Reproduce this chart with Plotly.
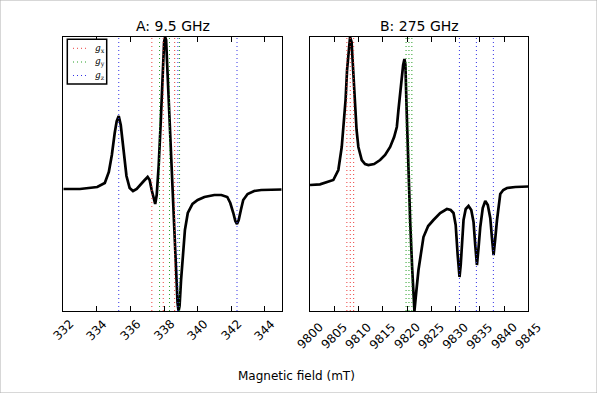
import plotly.graph_objects as go

# ---------------- data ----------------
fieldA = [332.00, 332.99, 334.02, 334.47, 334.71, 334.89, 335.06, 335.18, 335.30, 335.42,
          335.56, 335.76, 335.95, 336.15, 336.37, 336.55, 336.79, 337.02, 337.14, 337.26,
          337.38, 337.47, 337.56, 337.68, 337.80, 337.91, 338.00, 338.06, 338.12, 338.21,
          338.33, 338.44, 338.56, 338.68, 338.80, 338.86, 338.92, 339.01, 339.11, 339.24,
          339.41, 339.69, 340.00, 340.40, 340.99, 341.41, 341.76, 341.94, 342.12, 342.24,
          342.34, 342.44, 342.57, 342.71, 342.97, 343.36, 343.78, 344.37, 345.00]
signalA = [0, 0, 2, 6, 17, 34, 56, 68, 73, 64,
           43, 13, 1, -2, 0, 3, 8, 12, 9, -1,
           -11, -15, -6, 24, 67, 119, 147, 152, 149, 114,
           69, 24, -26, -73, -114, -122, -117, -91, -64, -41,
           -24, -15, -11, -8, -6, -6, -8, -14, -24, -32,
           -35, -31, -21, -11, -5, -2, -1, -0.5, -0.5]

fieldB = [9800.00, 9802.06, 9804.81, 9805.84, 9806.54, 9807.08, 9807.33, 9807.64, 9808.05, 9808.26,
          9808.57, 9808.88, 9809.29, 9809.60, 9809.97, 9810.67, 9811.35, 9812.04, 9813.21, 9814.45,
          9815.48, 9816.52, 9817.34, 9817.90, 9818.23, 9818.58, 9818.93, 9819.20, 9819.47, 9819.67,
          9819.92, 9820.23, 9820.64, 9821.06, 9821.37, 9821.53, 9821.78, 9822.36, 9823.39, 9824.36,
          9825.45, 9826.84, 9828.22, 9829.00, 9829.58, 9830.03, 9830.44, 9830.82, 9831.07, 9831.32,
          9831.65, 9832.10, 9832.68, 9833.24, 9833.71, 9834.06, 9834.41, 9834.74, 9835.10, 9835.61,
          9836.13, 9836.65, 9837.16, 9837.51, 9837.84, 9838.20, 9838.55, 9839.22, 9839.84, 9840.61,
          9842.32, 9845.00]
signalB = [1, 1.7, 6, 16, 39, 66, 86, 116, 144, 149,
           144, 116, 76, 56, 39, 26, 22, 21, 22, 26,
           31, 39, 49, 59, 76, 94, 109, 121, 127, 121,
           76, 26, -34, -82, -114, -125, -112, -84, -51, -40,
           -34, -27, -23, -24, -27, -39, -69, -91, -79, -61,
           -34, -23, -20, -24, -36, -59, -79, -62, -41, -22,
           -15, -19, -32, -52, -69, -52, -34, -8, -4, -2,
           -1, -0.5]

gx_A = [337.27, 337.95, 338.63]
gy_A = [337.73, 338.32, 338.92]
gz_A = [335.30, 338.82, 342.34]
gx_B = [9807.6, 9808.3, 9809.0]
gy_B = [9819.8, 9820.4, 9821.0]
gz_B = [9830.8, 9834.3, 9837.8]

ticksA = [332, 334, 336, 338, 340, 342, 344]
ticksB = [9800, 9805, 9810, 9815, 9820, 9825, 9830, 9835, 9840, 9845]

titles = ["A: 9.5 GHz", "B: 275 GHz"]
xlabel = "Magnetic field (mT)"
legend_labels = ["<i>g</i><sub>x</sub>", "<i>g</i><sub>y</sub>", "<i>g</i><sub>z</sub>"]
g_colors = ["rgb(235,60,60)", "rgb(40,160,40)", "rgb(50,50,230)"]

FONT = "DejaVu Sans"
W, H = 597, 393
DOT = "1px,3px"

fig = go.Figure()

def add_panel(field, signal, groups, xa, ya):
    ymin, ymax = min(signal), max(signal)
    fig.add_trace(go.Scatter(x=field, y=signal, mode="lines",
                             line=dict(color="black", width=2.7),
                             xaxis=xa, yaxis=ya, showlegend=False, hoverinfo="skip"))
    for gvals, col in zip(groups, g_colors):
        xs, ys = [], []
        for g in gvals:
            xs += [g, g, None]
            ys += [ymin, ymax, None]
        fig.add_trace(go.Scatter(x=xs, y=ys, mode="lines",
                                 line=dict(color=col, width=1, dash=DOT),
                                 xaxis=xa, yaxis=ya, showlegend=False, hoverinfo="skip"))
    return ymin, ymax

yrA = add_panel(fieldA, signalA, [gx_A, gy_A, gz_A], "x", "y")
yrB = add_panel(fieldB, signalB, [gx_B, gy_B, gz_B], "x2", "y2")

ydom = [1 - 311 / H, 1 - 37 / H]
domA = [63.3 / W, 281.7 / W]
domB = [310 / W, 528.3 / W]

xcommon = dict(showgrid=False, zeroline=False, showline=True, linecolor="black", linewidth=1,
               mirror="ticks", ticks="inside", ticklen=5, tickcolor="black", tickwidth=1,
               showticklabels=False, automargin=False)
ycommon = dict(showgrid=False, zeroline=False, showline=True, linecolor="black", linewidth=1,
               mirror=True, ticks="", showticklabels=False, automargin=False)

fig.update_layout(
    width=W, height=H,
    margin=dict(l=0, r=0, t=0, b=0),
    paper_bgcolor="white", plot_bgcolor="white",
    showlegend=False,
    xaxis=dict(domain=domA, range=[332, 345], tickvals=ticksA, anchor="y", **xcommon),
    yaxis=dict(domain=ydom, range=list(yrA), anchor="x", **ycommon),
    xaxis2=dict(domain=domB, range=[9800, 9845], tickvals=ticksB, anchor="y2", **xcommon),
    yaxis2=dict(domain=ydom, range=list(yrB), anchor="x2", **ycommon),
)

annotations = []
# rotated tick labels, centred under each tick (matplotlib style)
for ticks, xr, yc in [(ticksA, "x", 330), (ticksB, "x2", 336)]:
    for t in ticks:
        annotations.append(dict(text=str(t), x=t, xref=xr, y=1 - yc / H, yref="paper",
                                showarrow=False, xanchor="center", yanchor="middle",
                                textangle=-45,
                                font=dict(family=FONT, size=12, color="black")))

for t, xr in zip(titles, ["x domain", "x2 domain"]):
    annotations.append(dict(text=t, x=0.5, xref=xr, y=1 - 26 / H, yref="paper",
                            showarrow=False, xanchor="center", yanchor="middle",
                            font=dict(family=FONT, size=14, color="black")))
annotations.append(dict(text=xlabel, x=296 / W, xref="paper", y=1 - 376 / H, yref="paper",
                        showarrow=False, xanchor="center", yanchor="middle",
                        font=dict(family=FONT, size=12, color="black")))

# manual legend inside panel A (top-left)
shapes = []
def fx(px):
    return (px - 63.3) / (281.7 - 63.3)
def fy(py):
    return (311 - py) / (311 - 37)
shapes.append(dict(type="rect", xref="x domain", yref="y domain",
                   x0=fx(67.3), x1=fx(106.7), y0=fy(84), y1=fy(39.3),
                   line=dict(color="black", width=1.5), fillcolor="white", layer="above"))
for i, (lab, col) in enumerate(zip(legend_labels, g_colors)):
    yy = [48.3, 62.0, 75.5][i]
    shapes.append(dict(type="line", xref="x domain", yref="y domain",
                       x0=fx(73), x1=fx(87), y0=fy(yy), y1=fy(yy),
                       line=dict(color=col, width=1, dash=DOT), layer="above"))
    annotations.append(dict(text=lab, x=fx(93), xref="x domain", y=fy(yy), yref="y domain",
                            showarrow=False, xanchor="left", yanchor="middle",
                            font=dict(family="DejaVu Serif", size=9, color="black")))

# thin figure border
shapes.append(dict(type="rect", xref="paper", yref="paper", x0=0, x1=1, y0=0, y1=1,
                   line=dict(color="#b0b0b0", width=1), layer="below"))

fig.update_layout(annotations=annotations, shapes=shapes)
fig.write_html("out.html")
